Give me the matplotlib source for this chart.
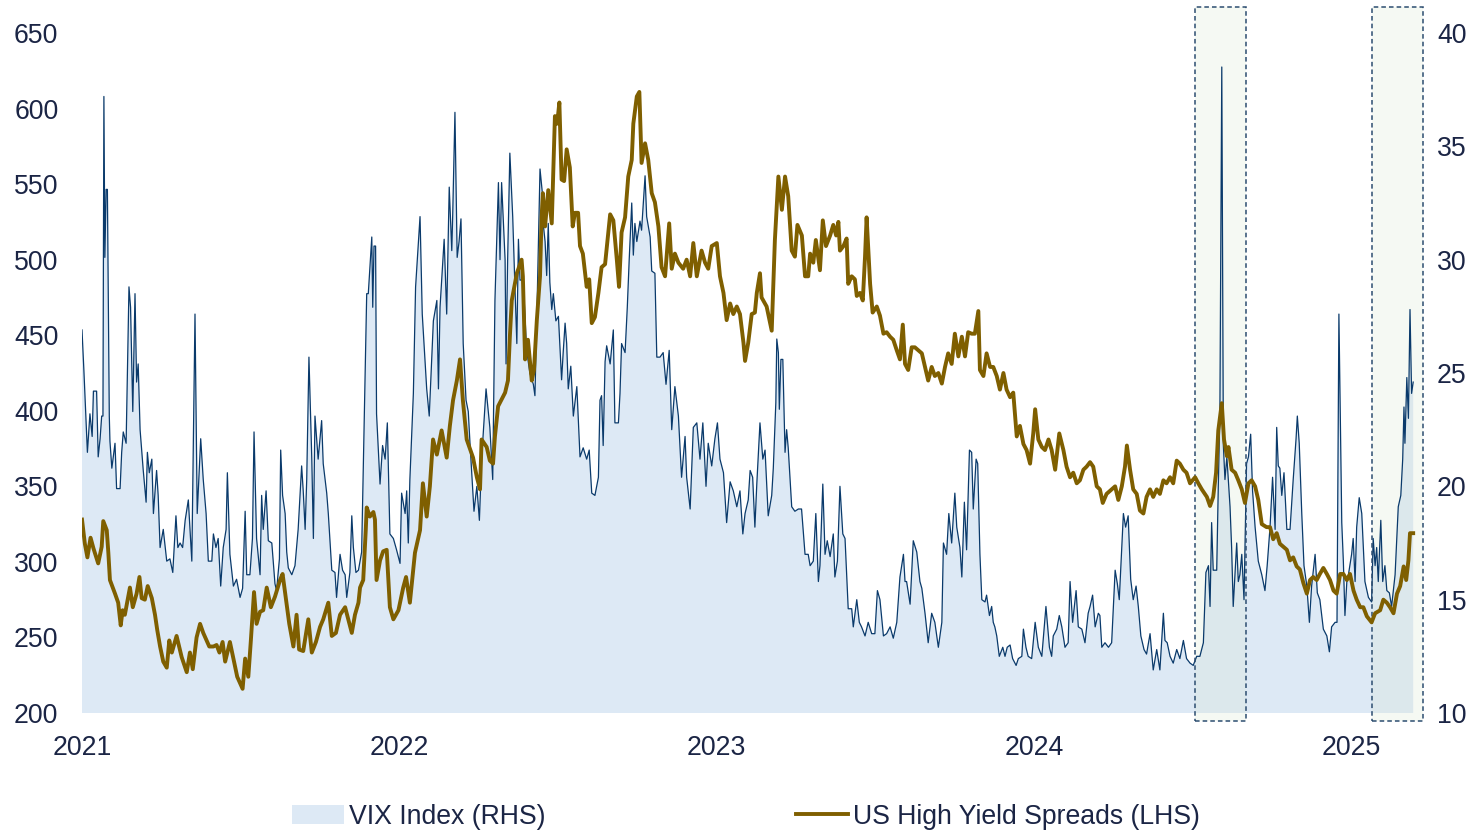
import matplotlib.pyplot as plt
from matplotlib.patches import Rectangle, Patch
from matplotlib.lines import Line2D

plt.rcParams['font.family'] = ['Liberation Sans', 'DejaVu Sans']

# VIX index (right axis), (decimal year, level)
vix_points = [
    (2021.000, 26.9), (2021.006, 25.1), (2021.017, 21.5), (2021.025, 23.2), (2021.032, 22.2),
    (2021.036, 24.2), (2021.046, 24.2), (2021.051, 21.3), (2021.057, 22.1), (2021.062, 23.1),
    (2021.066, 23.1), (2021.069, 37.2), (2021.072, 30.1), (2021.076, 33.1), (2021.080, 33.1),
    (2021.086, 23.1), (2021.088, 22.0), (2021.094, 20.8), (2021.104, 21.9), (2021.109, 19.9),
    (2021.120, 19.9), (2021.125, 21.5), (2021.130, 22.4), (2021.139, 21.9), (2021.141, 23.4),
    (2021.148, 28.8), (2021.153, 27.9), (2021.160, 23.3), (2021.167, 28.5), (2021.172, 24.6),
    (2021.177, 25.4), (2021.183, 22.5), (2021.193, 20.7), (2021.202, 19.3), (2021.206, 21.5),
    (2021.212, 20.6), (2021.220, 21.2), (2021.225, 18.8), (2021.235, 20.7), (2021.240, 19.6),
    (2021.246, 17.3), (2021.256, 18.1), (2021.267, 16.7), (2021.277, 16.8), (2021.286, 16.2),
    (2021.296, 18.7), (2021.302, 17.3), (2021.309, 17.5), (2021.317, 17.3), (2021.325, 18.5),
    (2021.335, 19.4), (2021.346, 16.7), (2021.356, 27.6), (2021.363, 18.8), (2021.374, 22.1),
    (2021.382, 20.3), (2021.391, 18.8), (2021.398, 16.7), (2021.409, 16.7), (2021.414, 17.9),
    (2021.422, 17.3), (2021.429, 17.7), (2021.437, 15.6), (2021.445, 17.3), (2021.454, 18.1),
    (2021.458, 20.6), (2021.466, 17.0), (2021.477, 15.6), (2021.487, 15.9), (2021.498, 15.1),
    (2021.506, 15.5), (2021.514, 18.9), (2021.519, 16.1), (2021.529, 16.1), (2021.537, 17.7),
    (2021.542, 22.4), (2021.550, 17.7), (2021.561, 16.1), (2021.566, 19.6), (2021.571, 18.1),
    (2021.580, 19.8), (2021.587, 17.6), (2021.598, 17.5), (2021.608, 15.7), (2021.613, 15.4),
    (2021.622, 16.8), (2021.626, 21.6), (2021.632, 19.6), (2021.640, 18.8), (2021.645, 17.1),
    (2021.650, 16.4), (2021.661, 16.1), (2021.671, 16.5), (2021.681, 18.1), (2021.692, 20.9),
    (2021.697, 19.8), (2021.703, 18.1), (2021.708, 20.3), (2021.715, 25.7), (2021.724, 21.2),
    (2021.729, 17.7), (2021.734, 23.1), (2021.744, 21.2), (2021.755, 22.9), (2021.760, 21.0),
    (2021.771, 19.7), (2021.776, 18.8), (2021.787, 16.3), (2021.797, 16.2), (2021.802, 15.1),
    (2021.813, 17.0), (2021.821, 16.3), (2021.829, 16.1), (2021.834, 15.1), (2021.844, 16.2),
    (2021.850, 18.7), (2021.855, 17.3), (2021.863, 16.2), (2021.871, 16.3), (2021.881, 17.1),
    (2021.897, 28.5), (2021.902, 28.5), (2021.913, 31.0), (2021.916, 27.9), (2021.920, 30.6),
    (2021.925, 30.6), (2021.928, 23.2), (2021.934, 21.5), (2021.939, 20.1), (2021.947, 21.8),
    (2021.955, 21.2), (2021.962, 22.8), (2021.970, 17.9), (2021.981, 17.7), (2021.991, 17.2),
    (2022.002, 16.6), (2022.007, 19.7), (2022.018, 18.8), (2022.023, 19.8), (2022.028, 17.5),
    (2022.033, 20.3), (2022.044, 24.1), (2022.051, 28.8), (2022.065, 31.9), (2022.072, 27.6),
    (2022.086, 24.3), (2022.094, 23.1), (2022.107, 27.3), (2022.118, 28.2), (2022.123, 24.3),
    (2022.128, 27.9), (2022.141, 30.9), (2022.149, 27.6), (2022.157, 33.2), (2022.165, 30.4),
    (2022.168, 32.0), (2022.175, 36.5), (2022.182, 30.1), (2022.188, 30.8), (2022.194, 31.8),
    (2022.201, 26.3), (2022.210, 23.8), (2022.217, 23.3), (2022.222, 22.0), (2022.235, 18.9),
    (2022.244, 20.0), (2022.252, 18.5), (2022.259, 21.2), (2022.273, 24.3), (2022.285, 22.6),
    (2022.294, 20.3), (2022.301, 28.2), (2022.312, 33.4), (2022.317, 30.0), (2022.322, 33.4),
    (2022.333, 30.0), (2022.336, 25.4), (2022.341, 30.0), (2022.348, 34.7), (2022.357, 31.9),
    (2022.364, 28.8), (2022.370, 26.3), (2022.375, 30.9), (2022.380, 29.1), (2022.390, 29.1),
    (2022.401, 26.0), (2022.411, 25.0), (2022.422, 24.5), (2022.427, 24.0), (2022.433, 27.5),
    (2022.443, 34.0), (2022.450, 33.0), (2022.453, 31.6), (2022.459, 30.8), (2022.464, 29.3),
    (2022.469, 31.6), (2022.474, 29.0), (2022.480, 27.8), (2022.485, 28.5), (2022.493, 27.3),
    (2022.501, 27.5), (2022.511, 24.7), (2022.516, 25.9), (2022.522, 27.2), (2022.527, 26.3),
    (2022.532, 24.3), (2022.540, 25.3), (2022.548, 23.1), (2022.559, 24.4), (2022.569, 21.3),
    (2022.579, 21.7), (2022.590, 21.2), (2022.598, 21.6), (2022.606, 19.7), (2022.616, 19.6),
    (2022.627, 20.4), (2022.632, 23.8), (2022.637, 24.0), (2022.642, 21.8), (2022.648, 25.5),
    (2022.653, 26.2), (2022.664, 25.4), (2022.674, 26.9), (2022.679, 22.8), (2022.690, 22.8),
    (2022.695, 24.1), (2022.700, 26.3), (2022.711, 25.9), (2022.718, 27.9), (2022.724, 30.0),
    (2022.732, 32.5), (2022.737, 30.2), (2022.742, 31.6), (2022.748, 30.8), (2022.758, 31.7),
    (2022.763, 31.3), (2022.774, 33.7), (2022.779, 31.9), (2022.790, 31.0), (2022.795, 29.5),
    (2022.805, 29.4), (2022.811, 25.7), (2022.821, 25.7), (2022.831, 25.9), (2022.840, 24.5),
    (2022.850, 26.0), (2022.858, 22.5), (2022.868, 24.4), (2022.879, 23.1), (2022.889, 20.4),
    (2022.900, 22.2), (2022.905, 20.4), (2022.916, 19.0), (2022.926, 22.6), (2022.937, 22.8),
    (2022.947, 21.2), (2022.956, 22.8), (2022.966, 20.0), (2022.973, 21.9), (2022.984, 20.9),
    (2022.994, 22.1), (2023.002, 22.8), (2023.010, 21.2), (2023.021, 20.6), (2023.031, 18.4),
    (2023.042, 20.2), (2023.052, 19.8), (2023.063, 19.1), (2023.073, 19.8), (2023.082, 17.9),
    (2023.089, 18.8), (2023.099, 19.4), (2023.105, 20.7), (2023.113, 20.4), (2023.120, 18.2),
    (2023.126, 20.1), (2023.136, 22.8), (2023.145, 21.2), (2023.152, 21.6), (2023.162, 18.7),
    (2023.173, 19.6), (2023.178, 20.8), (2023.186, 23.7), (2023.189, 26.5), (2023.194, 25.9),
    (2023.197, 23.4), (2023.202, 25.6), (2023.208, 25.6), (2023.215, 21.5), (2023.220, 22.5),
    (2023.225, 21.7), (2023.236, 19.1), (2023.246, 18.9), (2023.257, 19.0), (2023.267, 19.0),
    (2023.278, 17.0), (2023.288, 17.0), (2023.294, 16.5), (2023.304, 16.7), (2023.312, 18.8),
    (2023.320, 15.8), (2023.325, 16.5), (2023.334, 20.1), (2023.341, 17.0), (2023.348, 17.6),
    (2023.357, 16.9), (2023.367, 17.9), (2023.372, 16.0), (2023.380, 16.7), (2023.388, 20.0),
    (2023.397, 17.9), (2023.404, 17.7), (2023.414, 14.6), (2023.425, 14.6), (2023.430, 13.8),
    (2023.441, 15.0), (2023.449, 14.0), (2023.456, 13.8), (2023.467, 13.4), (2023.477, 14.0),
    (2023.488, 13.5), (2023.498, 13.5), (2023.506, 15.4), (2023.514, 15.0), (2023.525, 13.4),
    (2023.535, 13.5), (2023.546, 13.8), (2023.556, 13.3), (2023.567, 14.0), (2023.577, 16.0),
    (2023.588, 17.0), (2023.593, 15.8), (2023.598, 15.8), (2023.609, 14.8), (2023.619, 17.6),
    (2023.630, 17.1), (2023.640, 15.8), (2023.646, 15.5), (2023.656, 14.4), (2023.666, 13.1),
    (2023.677, 14.4), (2023.687, 14.0), (2023.698, 12.9), (2023.709, 14.0), (2023.714, 17.5),
    (2023.724, 17.0), (2023.731, 18.8), (2023.740, 17.5), (2023.750, 19.7), (2023.756, 18.2),
    (2023.766, 17.3), (2023.772, 16.0), (2023.780, 19.3), (2023.787, 17.2), (2023.796, 21.6),
    (2023.803, 21.5), (2023.808, 19.0), (2023.817, 21.2), (2023.822, 21.0), (2023.829, 17.0),
    (2023.835, 15.0), (2023.845, 14.9), (2023.850, 15.2), (2023.859, 14.3), (2023.866, 14.7),
    (2023.871, 14.0), (2023.876, 13.8), (2023.882, 13.4), (2023.890, 12.5), (2023.901, 12.9),
    (2023.908, 12.5), (2023.915, 12.9), (2023.924, 13.0), (2023.932, 12.4), (2023.943, 12.1),
    (2023.950, 12.4), (2023.961, 12.5), (2023.966, 13.7), (2023.974, 12.9), (2023.981, 12.5),
    (2023.992, 12.4), (2024.003, 14.0), (2024.013, 12.9), (2024.024, 12.5), (2024.037, 14.7),
    (2024.048, 12.9), (2024.055, 12.5), (2024.060, 13.4), (2024.071, 13.7), (2024.079, 14.3),
    (2024.087, 13.8), (2024.097, 12.9), (2024.107, 13.1), (2024.113, 15.8), (2024.121, 14.0),
    (2024.132, 15.4), (2024.139, 13.8), (2024.150, 13.7), (2024.160, 13.1), (2024.170, 14.4),
    (2024.176, 14.7), (2024.184, 15.2), (2024.192, 13.8), (2024.202, 14.4), (2024.207, 14.3),
    (2024.213, 12.9), (2024.223, 13.1), (2024.234, 12.9), (2024.244, 13.1), (2024.249, 14.6),
    (2024.255, 16.3), (2024.262, 15.7), (2024.268, 15.0), (2024.276, 17.3), (2024.281, 18.8),
    (2024.288, 18.2), (2024.296, 18.7), (2024.304, 15.9), (2024.312, 15.0), (2024.321, 15.6),
    (2024.328, 14.7), (2024.336, 13.4), (2024.346, 12.8), (2024.354, 12.6), (2024.365, 13.5),
    (2024.375, 11.9), (2024.386, 12.8), (2024.396, 11.9), (2024.407, 14.4), (2024.412, 13.2),
    (2024.419, 13.1), (2024.428, 12.5), (2024.438, 12.2), (2024.449, 12.8), (2024.459, 12.4),
    (2024.470, 13.2), (2024.480, 12.4), (2024.491, 12.2), (2024.501, 12.1), (2024.512, 12.5),
    (2024.522, 12.5), (2024.533, 13.1), (2024.541, 16.2), (2024.549, 16.5), (2024.554, 14.7),
    (2024.559, 18.4), (2024.564, 16.3), (2024.575, 16.3), (2024.580, 20.0), (2024.585, 23.2),
    (2024.591, 38.5), (2024.594, 27.8), (2024.596, 21.8), (2024.601, 20.3), (2024.607, 21.3),
    (2024.617, 19.1), (2024.622, 17.3), (2024.627, 14.7), (2024.638, 17.5), (2024.643, 15.8),
    (2024.648, 16.1), (2024.654, 17.0), (2024.661, 15.0), (2024.669, 21.0), (2024.675, 21.3),
    (2024.682, 22.3), (2024.688, 19.8), (2024.696, 18.2), (2024.706, 16.7), (2024.717, 16.1),
    (2024.727, 15.4), (2024.734, 16.5), (2024.743, 18.2), (2024.751, 20.4), (2024.759, 18.1),
    (2024.764, 22.6), (2024.769, 20.9), (2024.774, 20.8), (2024.780, 19.6), (2024.787, 20.6),
    (2024.796, 18.1), (2024.806, 18.1), (2024.816, 20.3), (2024.825, 22.1), (2024.829, 23.1),
    (2024.835, 21.9), (2024.843, 18.8), (2024.850, 16.5), (2024.859, 15.6), (2024.867, 14.0),
    (2024.874, 15.6), (2024.885, 17.0), (2024.892, 15.3), (2024.900, 15.0), (2024.911, 13.7),
    (2024.922, 13.4), (2024.930, 12.7), (2024.937, 13.8), (2024.948, 14.0), (2024.954, 14.0),
    (2024.960, 27.6), (2024.969, 18.4), (2024.974, 16.7), (2024.979, 14.3), (2024.985, 15.8),
    (2024.990, 16.1), (2025.000, 17.0), (2025.005, 17.7), (2025.011, 15.8), (2025.016, 18.2),
    (2025.024, 19.5), (2025.032, 18.8), (2025.042, 15.8), (2025.053, 15.1), (2025.063, 14.9),
    (2025.068, 17.7), (2025.074, 16.5), (2025.079, 17.3), (2025.084, 15.8), (2025.092, 18.5),
    (2025.098, 15.8), (2025.105, 16.5), (2025.111, 15.4), (2025.119, 15.3), (2025.126, 14.7),
    (2025.137, 16.1), (2025.147, 19.1), (2025.155, 19.6), (2025.161, 21.2), (2025.165, 23.5),
    (2025.168, 21.9), (2025.174, 24.8), (2025.179, 23.0), (2025.184, 27.8), (2025.189, 24.1),
    (2025.194, 24.6),
]

# US high yield spreads in bp (left axis), (decimal year, spread)
hy_points = [
    (2021.000, 328), (2021.009, 312), (2021.017, 303), (2021.027, 316), (2021.036, 309),
    (2021.051, 299), (2021.062, 310), (2021.067, 327), (2021.078, 321), (2021.083, 306),
    (2021.088, 288), (2021.104, 279), (2021.114, 273), (2021.122, 258), (2021.128, 268),
    (2021.135, 265), (2021.144, 275), (2021.151, 283), (2021.160, 270), (2021.172, 279),
    (2021.181, 290), (2021.188, 276), (2021.198, 275), (2021.207, 284), (2021.220, 276),
    (2021.230, 265), (2021.237, 255), (2021.246, 244), (2021.256, 234), (2021.267, 230),
    (2021.275, 248), (2021.283, 240), (2021.298, 251), (2021.314, 237), (2021.330, 227),
    (2021.340, 240), (2021.349, 229), (2021.361, 250), (2021.372, 259), (2021.382, 253),
    (2021.401, 244), (2021.414, 244), (2021.424, 245), (2021.433, 240), (2021.443, 247),
    (2021.451, 234), (2021.466, 247), (2021.477, 236), (2021.489, 224), (2021.506, 216),
    (2021.514, 236), (2021.524, 224), (2021.532, 248), (2021.542, 280), (2021.550, 259),
    (2021.561, 267), (2021.571, 268), (2021.582, 283), (2021.595, 270), (2021.608, 277),
    (2021.624, 288), (2021.632, 292), (2021.643, 275), (2021.653, 259), (2021.666, 244),
    (2021.676, 265), (2021.684, 242), (2021.697, 241), (2021.713, 262), (2021.724, 240),
    (2021.737, 247), (2021.750, 257), (2021.760, 262), (2021.776, 273), (2021.787, 251),
    (2021.800, 253), (2021.813, 265), (2021.829, 270), (2021.839, 262), (2021.850, 253),
    (2021.860, 265), (2021.871, 273), (2021.876, 283), (2021.886, 288), (2021.894, 321),
    (2021.897, 336), (2021.907, 330), (2021.918, 333), (2021.923, 328), (2021.928, 288),
    (2021.939, 301), (2021.949, 307), (2021.960, 308), (2021.970, 270), (2021.981, 262),
    (2021.997, 268), (2022.012, 283), (2022.021, 290), (2022.033, 273), (2022.049, 306),
    (2022.065, 321), (2022.074, 352), (2022.086, 330), (2022.096, 350), (2022.106, 381),
    (2022.118, 371), (2022.133, 387), (2022.149, 369), (2022.159, 390), (2022.169, 407),
    (2022.181, 420), (2022.191, 434), (2022.200, 407), (2022.212, 381), (2022.232, 369),
    (2022.244, 356), (2022.254, 348), (2022.259, 381), (2022.275, 376), (2022.285, 367),
    (2022.295, 365), (2022.301, 383), (2022.311, 403), (2022.333, 412), (2022.342, 420),
    (2022.348, 449), (2022.354, 473), (2022.370, 491), (2022.385, 500), (2022.389, 489),
    (2022.396, 434), (2022.405, 447), (2022.417, 420), (2022.424, 427), (2022.433, 460),
    (2022.443, 489), (2022.448, 528), (2022.452, 544), (2022.459, 522), (2022.469, 546),
    (2022.480, 524), (2022.485, 559), (2022.490, 595), (2022.497, 590), (2022.504, 604),
    (2022.511, 553), (2022.519, 552), (2022.527, 573), (2022.537, 561), (2022.546, 522),
    (2022.553, 531), (2022.563, 531), (2022.569, 509), (2022.578, 504), (2022.590, 482),
    (2022.598, 487), (2022.606, 458), (2022.616, 462), (2022.627, 478), (2022.637, 495),
    (2022.648, 497), (2022.664, 530), (2022.674, 526), (2022.685, 500), (2022.692, 482),
    (2022.700, 518), (2022.711, 528), (2022.721, 555), (2022.732, 566), (2022.737, 590),
    (2022.748, 608), (2022.756, 611), (2022.763, 564), (2022.774, 577), (2022.784, 566),
    (2022.795, 544), (2022.805, 538), (2022.816, 522), (2022.826, 495), (2022.837, 489),
    (2022.850, 524), (2022.858, 494), (2022.868, 504), (2022.879, 498), (2022.894, 494),
    (2022.905, 500), (2022.916, 489), (2022.926, 511), (2022.937, 489), (2022.952, 506),
    (2022.963, 498), (2022.973, 494), (2022.984, 509), (2023.000, 511), (2023.010, 489),
    (2023.021, 478), (2023.031, 460), (2023.042, 471), (2023.052, 464), (2023.063, 469),
    (2023.073, 464), (2023.084, 445), (2023.089, 433), (2023.099, 445), (2023.110, 464),
    (2023.120, 465), (2023.126, 478), (2023.136, 491), (2023.141, 475), (2023.157, 469),
    (2023.168, 458), (2023.173, 453), (2023.183, 513), (2023.194, 555), (2023.205, 533),
    (2023.215, 555), (2023.225, 542), (2023.236, 506), (2023.246, 502), (2023.254, 523),
    (2023.268, 516), (2023.278, 489), (2023.288, 489), (2023.294, 504), (2023.304, 498),
    (2023.312, 513), (2023.325, 493), (2023.334, 526), (2023.344, 509), (2023.357, 516),
    (2023.367, 523), (2023.376, 516), (2023.383, 525), (2023.388, 506), (2023.399, 509),
    (2023.409, 514), (2023.414, 484), (2023.425, 489), (2023.435, 487), (2023.441, 476),
    (2023.451, 478), (2023.460, 473), (2023.467, 502), (2023.472, 528), (2023.483, 484),
    (2023.491, 465), (2023.504, 469), (2023.514, 463), (2023.525, 451), (2023.535, 452),
    (2023.546, 449), (2023.556, 447), (2023.567, 440), (2023.577, 434), (2023.586, 457),
    (2023.593, 431), (2023.603, 427), (2023.614, 442), (2023.624, 442), (2023.635, 440),
    (2023.646, 438), (2023.656, 429), (2023.666, 420), (2023.677, 429), (2023.687, 423),
    (2023.698, 425), (2023.709, 418), (2023.719, 429), (2023.729, 438), (2023.740, 431),
    (2023.750, 451), (2023.761, 436), (2023.772, 449), (2023.782, 436), (2023.792, 452),
    (2023.803, 451), (2023.813, 451), (2023.824, 466), (2023.829, 427), (2023.840, 423),
    (2023.850, 438), (2023.861, 429), (2023.871, 429), (2023.882, 423), (2023.892, 414),
    (2023.903, 425), (2023.913, 414), (2023.924, 409), (2023.934, 412), (2023.945, 383),
    (2023.955, 390), (2023.966, 378), (2023.976, 374), (2023.987, 365), (2023.997, 385),
    (2024.003, 401), (2024.013, 381), (2024.024, 376), (2024.034, 374), (2024.045, 381),
    (2024.055, 374), (2024.066, 361), (2024.079, 385), (2024.092, 374), (2024.102, 363),
    (2024.113, 356), (2024.123, 359), (2024.134, 352), (2024.144, 354), (2024.155, 361),
    (2024.165, 363), (2024.176, 366), (2024.186, 363), (2024.197, 350), (2024.207, 348),
    (2024.216, 339), (2024.228, 345), (2024.244, 348), (2024.255, 350), (2024.265, 341),
    (2024.276, 350), (2024.286, 363), (2024.292, 377), (2024.302, 361), (2024.312, 348),
    (2024.323, 345), (2024.333, 334), (2024.344, 332), (2024.354, 343), (2024.365, 348),
    (2024.375, 343), (2024.386, 348), (2024.396, 345), (2024.407, 354), (2024.417, 352),
    (2024.428, 356), (2024.438, 352), (2024.449, 367), (2024.459, 365), (2024.470, 361),
    (2024.480, 359), (2024.491, 352), (2024.507, 356), (2024.517, 352), (2024.528, 348),
    (2024.544, 343), (2024.554, 337), (2024.564, 343), (2024.573, 359), (2024.580, 387),
    (2024.591, 405), (2024.598, 381), (2024.607, 370), (2024.612, 376), (2024.622, 361),
    (2024.633, 359), (2024.643, 354), (2024.654, 348), (2024.664, 339), (2024.675, 352),
    (2024.685, 354), (2024.696, 350), (2024.706, 341), (2024.717, 325), (2024.732, 323),
    (2024.743, 323), (2024.753, 315), (2024.764, 319), (2024.774, 312), (2024.785, 310),
    (2024.796, 308), (2024.806, 301), (2024.816, 303), (2024.827, 297), (2024.837, 295),
    (2024.848, 286), (2024.859, 279), (2024.869, 288), (2024.879, 290), (2024.890, 288),
    (2024.900, 292), (2024.911, 296), (2024.922, 292), (2024.932, 288), (2024.943, 281),
    (2024.953, 279), (2024.964, 292), (2024.974, 292), (2024.985, 288), (2024.995, 292),
    (2025.006, 281), (2025.016, 275), (2025.027, 270), (2025.037, 270), (2025.048, 264),
    (2025.063, 260), (2025.074, 266), (2025.090, 268), (2025.100, 275), (2025.111, 273),
    (2025.121, 270), (2025.132, 266), (2025.143, 279), (2025.153, 284), (2025.164, 297),
    (2025.172, 288), (2025.179, 301), (2025.184, 319), (2025.194, 319),
]

# highlighted stress windows (start, end) in decimal years
highlights = [(2024.507, 2024.666), (2025.065, 2025.224)]
year_ticks = [2021, 2022, 2023, 2024, 2025]
hy_ticks = list(range(200, 651, 50))
vix_ticks = list(range(10, 41, 5))

vix_t, vix = zip(*vix_points)
hy_t, hy = zip(*hy_points)

NAVY = '#1b2545'
VIX_FILL = '#dde9f5'
GOLD = '#7f5f00'
FS = 19.2

fig = plt.figure(figsize=(14.73, 8.32), dpi=100)
ax = fig.add_axes([82 / 1473, 1 - 713 / 832, 1348 / 1473, 680 / 832])
ax2 = ax.twinx()

# VIX on the right-hand axis
ax2.fill_between(vix_t, vix, 0, color=VIX_FILL, lw=0, zorder=1)
for a, b in highlights:
    ax2.add_patch(Rectangle((a, 9.65), b - a, 31.5, facecolor='#d9e6d0', alpha=0.24,
                            edgecolor='none', zorder=1.5, clip_on=False))
    ax2.add_patch(Rectangle((a, 9.65), b - a, 31.5, facecolor='none', edgecolor='#2c4d70',
                            ls=(0, (3, 2)), lw=1.1, zorder=4, clip_on=False))
ax2.plot(vix_t, vix, color='#0a3a6b', lw=0.9, zorder=2)

# HY spreads on the left-hand axis, drawn on top
ax.plot(hy_t, hy, color=GOLD, lw=2.8, zorder=3, solid_joinstyle='round')
ax.set_zorder(ax2.get_zorder() + 1)
ax.patch.set_visible(False)

ax.set_xlim(2021, 2025.247)
ax.set_ylim(200, 650)
ax2.set_ylim(10, 40)
ax.set_xticks(year_ticks)
ax.set_xticklabels([str(y) for y in year_ticks])
ax.set_yticks(hy_ticks)
ax2.set_yticks(vix_ticks)

for a in (ax, ax2):
    for s in a.spines.values():
        s.set_visible(False)
ax.tick_params(axis='x', length=0, labelsize=FS, colors=NAVY, pad=16)
ax.tick_params(axis='y', length=0, labelsize=FS, colors=NAVY, pad=17)
ax2.tick_params(axis='y', length=0, labelsize=FS, colors=NAVY, pad=5)

handles = [Patch(facecolor=VIX_FILL, edgecolor='none'),
           Line2D([], [], color=GOLD, lw=2.8)]
fig.legend(handles, ['VIX Index (RHS)', 'US High Yield Spreads (LHS)'],
           loc='center', bbox_to_anchor=(0.5065, 0.0185), ncol=2, frameon=False,
           fontsize=FS, handlelength=1.95, handletextpad=0.19, columnspacing=9.4,
           labelcolor=NAVY)

fig.savefig('out.png', dpi=100)
